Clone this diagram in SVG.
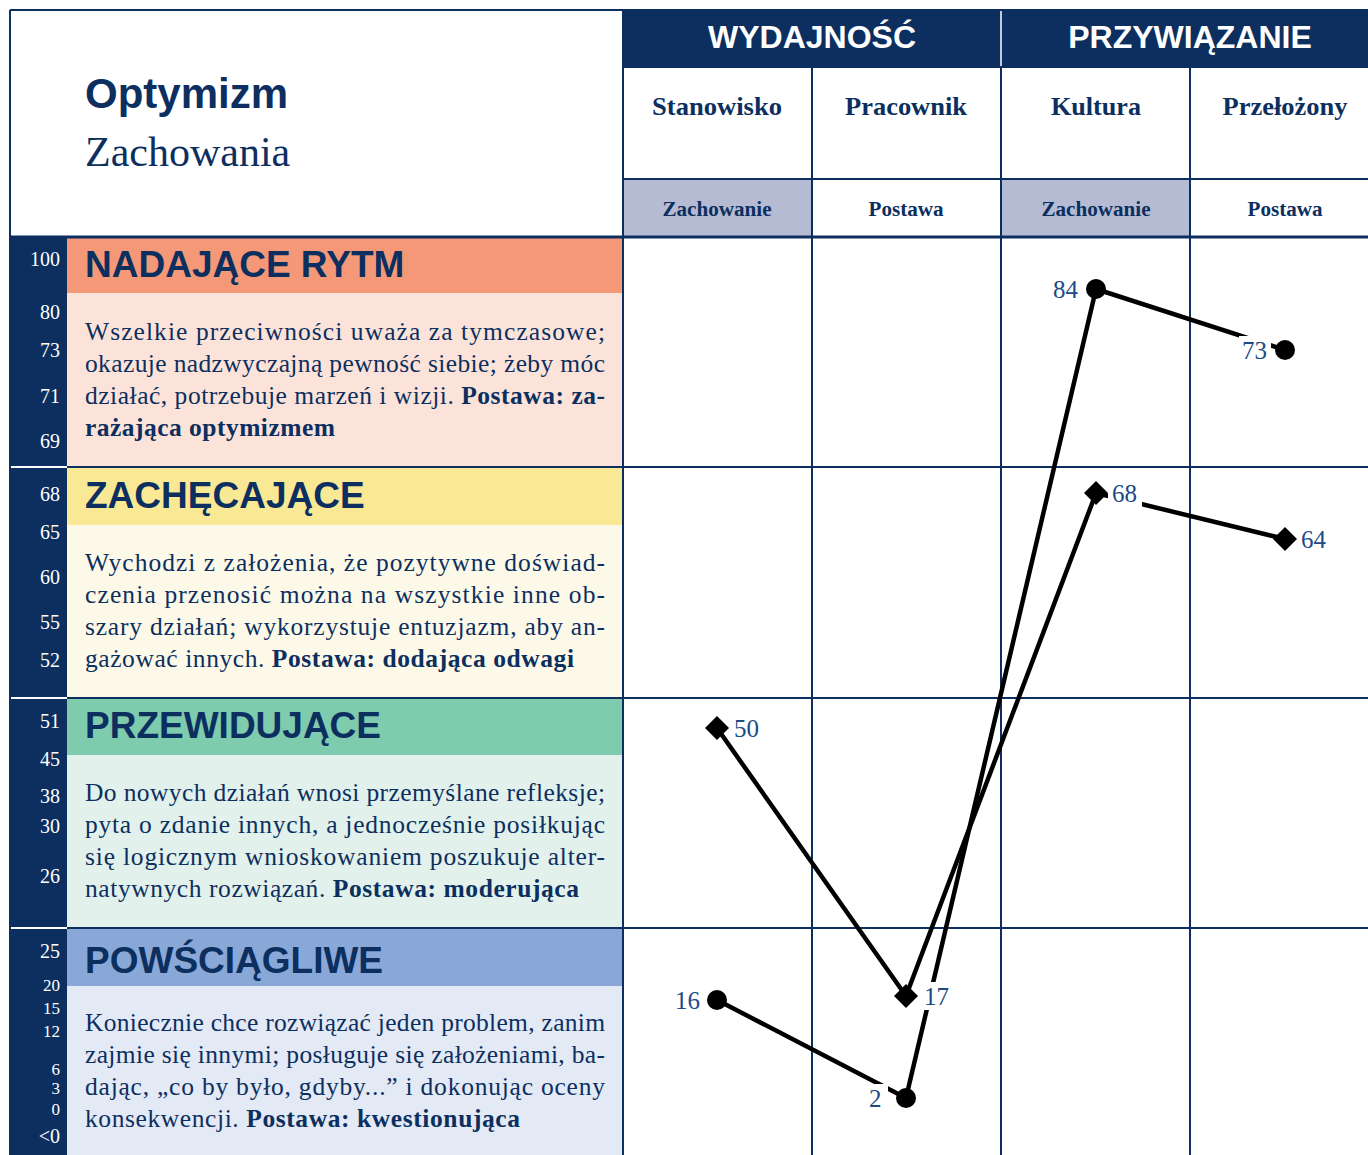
<svg xmlns="http://www.w3.org/2000/svg" width="1368" height="1155" viewBox="0 0 1368 1155">
<style>
.nv{fill:#0C2F5F}
.grid{stroke:#0C2F5F;stroke-width:2;fill:none}
.serif{font-family:"Liberation Serif","Times New Roman",serif}
.sans{font-family:"Liberation Sans",Arial,sans-serif}
.ax{font-family:"Liberation Serif","Times New Roman",serif;font-size:20px;fill:#fff;text-anchor:end}
.axs{font-size:17px}
.bt{font-family:"Liberation Sans",Arial,sans-serif;font-weight:bold;font-size:37px;fill:#0C2F5F}
.body{font-family:"Liberation Serif","Times New Roman",serif;font-size:25.5px;fill:#0C2F5F}
.b{font-weight:bold}
.col{font-family:"Liberation Serif",serif;font-weight:bold;font-size:25px;fill:#0C2F5F;text-anchor:middle}
.sub{font-family:"Liberation Serif",serif;font-weight:bold;font-size:20px;fill:#0C2F5F;text-anchor:middle}
.hd{font-family:"Liberation Sans",Arial,sans-serif;font-weight:bold;font-size:32px;fill:#fff;text-anchor:middle}
.ser{stroke:#000;stroke-width:4.5;fill:none;stroke-linejoin:round}
.lb{font-family:"Liberation Serif","Times New Roman",serif;font-size:25px;fill:#1D4A85}
.ko{fill:#fff}
</style>
<defs>
<circle id="dot" r="10" fill="#000"/>
<polygon id="dia" points="0,-12 12,0 0,12 -12,0" fill="#000"/>
</defs>
<rect width="1368" height="1155" fill="#fff"/>

<g id="title">
<text x="85" y="108" class="sans" font-weight="bold" font-size="42" fill="#0C2F5F">Optymizm</text>
<text x="85" y="166" class="serif" font-size="42" fill="#0C2F5F">Zachowania</text>
</g>

<g id="header">
<rect x="623" y="10" width="745" height="57" class="nv"/>
<line x1="1001" y1="10" x2="1001" y2="67" stroke="#fff" stroke-width="1.5"/>
<text x="812" y="48" class="hd">WYDAJNOŚĆ</text>
<text x="1190" y="48" class="hd">PRZYWIĄZANIE</text>
<rect x="623" y="179" width="189" height="58" fill="#B4BBD2"/>
<rect x="1001" y="179" width="189" height="58" fill="#B4BBD2"/>
<text x="717" y="115" class="col" textLength="130" lengthAdjust="spacingAndGlyphs">Stanowisko</text>
<text x="906" y="115" class="col" textLength="122" lengthAdjust="spacingAndGlyphs">Pracownik</text>
<text x="1096" y="115" class="col" textLength="90" lengthAdjust="spacingAndGlyphs">Kultura</text>
<text x="1285" y="115" class="col" textLength="125" lengthAdjust="spacingAndGlyphs">Przełożony</text>
<text x="717" y="216" class="sub" textLength="109" lengthAdjust="spacingAndGlyphs">Zachowanie</text>
<text x="906" y="216" class="sub" textLength="75" lengthAdjust="spacingAndGlyphs">Postawa</text>
<text x="1096" y="216" class="sub" textLength="109" lengthAdjust="spacingAndGlyphs">Zachowanie</text>
<text x="1285" y="216" class="sub" textLength="75" lengthAdjust="spacingAndGlyphs">Postawa</text>
</g>

<g id="band-nadajace">
<rect x="67" y="237" width="556" height="56" fill="#F49878"/>
<rect x="67" y="293" width="556" height="174" fill="#FCE3D9"/>
<text x="85" y="277" class="bt">NADAJĄCE RYTM</text>
<text x="85" y="340" class="body" textLength="520" lengthAdjust="spacing">Wszelkie przeciwności uważa za tymczasowe;</text>
<text x="85" y="372" class="body" textLength="520" lengthAdjust="spacing">okazuje nadzwyczajną pewność siebie; żeby móc</text>
<text x="85" y="404" class="body" textLength="520" lengthAdjust="spacing">działać, potrzebuje marzeń i wizji. <tspan class="b">Postawa: za-</tspan></text>
<text x="85" y="436" class="body b" textLength="250" lengthAdjust="spacing">rażająca optymizmem</text>
</g>

<g id="band-zachecajace">
<rect x="67" y="467" width="556" height="58" fill="#F9E995"/>
<rect x="67" y="525" width="556" height="173" fill="#FDF9E8"/>
<text x="85" y="508" class="bt">ZACHĘCAJĄCE</text>
<text x="85" y="571" class="body" textLength="520" lengthAdjust="spacing">Wychodzi z założenia, że pozytywne doświad-</text>
<text x="85" y="603" class="body" textLength="520" lengthAdjust="spacing">czenia przenosić można na wszystkie inne ob-</text>
<text x="85" y="635" class="body" textLength="520" lengthAdjust="spacing">szary działań; wykorzystuje entuzjazm, aby an-</text>
<text x="85" y="667" class="body" textLength="489" lengthAdjust="spacing">gażować innych. <tspan class="b">Postawa: dodająca odwagi</tspan></text>
</g>

<g id="band-przewidujace">
<rect x="67" y="698" width="556" height="57" fill="#7FCBAE"/>
<rect x="67" y="755" width="556" height="173" fill="#E2F1EB"/>
<text x="85" y="738" class="bt">PRZEWIDUJĄCE</text>
<text x="85" y="801" class="body" textLength="520" lengthAdjust="spacing">Do nowych działań wnosi przemyślane refleksje;</text>
<text x="85" y="833" class="body" textLength="520" lengthAdjust="spacing">pyta o zdanie innych, a jednocześnie posiłkując</text>
<text x="85" y="865" class="body" textLength="520" lengthAdjust="spacing">się logicznym wnioskowaniem poszukuje alter-</text>
<text x="85" y="897" class="body" textLength="494" lengthAdjust="spacing">natywnych rozwiązań. <tspan class="b">Postawa: moderująca</tspan></text>
</g>

<g id="band-powsciagliwe">
<rect x="67" y="928" width="556" height="58" fill="#89A8D8"/>
<rect x="67" y="986" width="556" height="169" fill="#E3E9F5"/>
<text x="85" y="973" class="bt">POWŚCIĄGLIWE</text>
<text x="85" y="1031" class="body" textLength="520" lengthAdjust="spacing">Koniecznie chce rozwiązać jeden problem, zanim</text>
<text x="85" y="1063" class="body" textLength="520" lengthAdjust="spacing">zajmie się innymi; posługuje się założeniami, ba-</text>
<text x="85" y="1095" class="body" textLength="520" lengthAdjust="spacing">dając, „co by było, gdyby...” i dokonując oceny</text>
<text x="85" y="1127" class="body" textLength="435" lengthAdjust="spacing">konsekwencji. <tspan class="b">Postawa: kwestionująca</tspan></text>
</g>

<g id="axis">
<rect x="10" y="237" width="57" height="918" class="nv"/>
<g stroke="#fff" stroke-width="2">
<line x1="10" y1="467" x2="67" y2="467"/>
<line x1="10" y1="698" x2="67" y2="698"/>
<line x1="10" y1="928" x2="67" y2="928"/>
</g>
<text x="60" y="266" class="ax">100</text>
<text x="60" y="319" class="ax">80</text>
<text x="60" y="357" class="ax">73</text>
<text x="60" y="403" class="ax">71</text>
<text x="60" y="448" class="ax">69</text>
<text x="60" y="501" class="ax">68</text>
<text x="60" y="539" class="ax">65</text>
<text x="60" y="584" class="ax">60</text>
<text x="60" y="629" class="ax">55</text>
<text x="60" y="667" class="ax">52</text>
<text x="60" y="728" class="ax">51</text>
<text x="60" y="766" class="ax">45</text>
<text x="60" y="803" class="ax">38</text>
<text x="60" y="833" class="ax">30</text>
<text x="60" y="883" class="ax">26</text>
<text x="60" y="958" class="ax">25</text>
<text x="60" y="991" class="ax axs">20</text>
<text x="60" y="1014" class="ax axs">15</text>
<text x="60" y="1037" class="ax axs">12</text>
<text x="60" y="1075" class="ax axs">6</text>
<text x="60" y="1094" class="ax axs">3</text>
<text x="60" y="1115" class="ax axs">0</text>
<text x="60" y="1143" class="ax">&lt;0</text>
</g>

<g id="grid" class="grid">
<line x1="10" y1="10" x2="1368" y2="10"/>
<line x1="10" y1="10" x2="10" y2="1155"/>
<line x1="623" y1="10" x2="623" y2="1155"/>
<line x1="812" y1="67" x2="812" y2="1155"/>
<line x1="1001" y1="67" x2="1001" y2="1155"/>
<line x1="1190" y1="67" x2="1190" y2="1155"/>
<line x1="623" y1="67" x2="1368" y2="67"/>
<line x1="623" y1="179" x2="1368" y2="179"/>
<line x1="10" y1="237" x2="1368" y2="237" stroke-width="3"/>
<line x1="67" y1="467" x2="1368" y2="467"/>
<line x1="67" y1="698" x2="1368" y2="698"/>
<line x1="67" y1="928" x2="1368" y2="928"/>
</g>

<g id="connectors">
<polyline class="ser" points="717,1000 906,1098 1096,289 1285,350"/>
<polyline class="ser" points="717,728 906,996 1096,493 1285,539"/>
</g>

<g id="points">
<use href="#dot" x="717" y="1000"/>
<use href="#dot" x="906" y="1098"/>
<use href="#dot" x="1096" y="289"/>
<use href="#dot" x="1285" y="350"/>
<use href="#dia" x="717" y="728"/>
<use href="#dia" x="906" y="996"/>
<use href="#dia" x="1096" y="493"/>
<use href="#dia" x="1285" y="539"/>
</g>

<g id="labels">
<rect x="672" y="986" width="32" height="28" class="ko"/>
<text x="675" y="1009" class="lb">16</text>
<rect x="866" y="1084" width="22" height="28" class="ko"/>
<text x="869" y="1107" class="lb">2</text>
<rect x="1050" y="275" width="31" height="28" class="ko"/>
<text x="1053" y="298" class="lb">84</text>
<rect x="1239" y="336" width="32" height="28" class="ko"/>
<text x="1242" y="359" class="lb">73</text>
<rect x="731" y="714" width="32" height="28" class="ko"/>
<text x="734" y="737" class="lb">50</text>
<rect x="921" y="982" width="32" height="28" class="ko"/>
<text x="924" y="1005" class="lb">17</text>
<rect x="1108" y="479" width="34" height="28" class="ko"/>
<text x="1112" y="502" class="lb">68</text>
<rect x="1298" y="525" width="32" height="28" class="ko"/>
<text x="1301" y="548" class="lb">64</text>
</g>
</svg>
